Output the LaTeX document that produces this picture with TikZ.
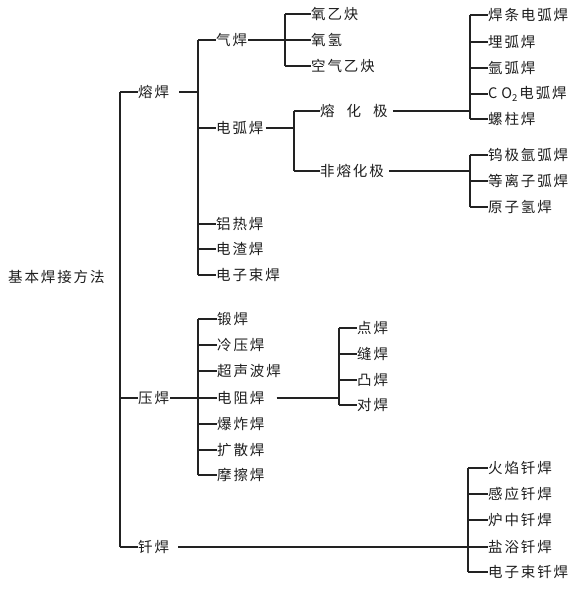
\documentclass[tikz,border=0pt]{standalone}
\usepackage{fontspec}
\newfontfamily\cjk[LetterSpace=13]{Noto Sans CJK SC}
\definecolor{txt}{HTML}{1E1E1E}
\definecolor{lin}{HTML}{222222}
\begin{document}
\begin{tikzpicture}[x=1pt,y=-1pt,
  lbl/.style={anchor=west,inner sep=0pt,font=\cjk\fontsize{14.5}{17}\selectfont,text=txt},
  ln/.style={draw=lin,line width=1.5pt}]
\useasboundingbox[fill=white] (0,0) rectangle (578,590);
% bars
\coordinate (v0) at (120,0);
\coordinate (v1) at (198,0);
\coordinate (v2) at (285,0);
\coordinate (v3) at (294,0);
\coordinate (v4) at (470,0);
\coordinate (v5) at (339,0);
\coordinate (v6) at (468,0);
% root and level 1
\node[lbl] (root) at (8,277) {基本焊接方法};
\node[lbl] (rh) at (138,92) {熔焊};
\node[lbl] (yh) at (138,398) {压焊};
\node[lbl] (qh) at (138,547) {钎焊};
% 熔焊 children
\node[lbl] (qih) at (216,40) {气焊};
\node[lbl] (dhh) at (216,128) {电弧焊};
\node[lbl] (lrh) at (216,224) {铝热焊};
\node[lbl] (dzh) at (216,249) {电渣焊};
\node[lbl] (dzsh) at (216,275) {电子束焊};
% 气焊 children
\node[lbl] (yyq) at (311,14) {氧乙炔};
\node[lbl] (yq) at (311,40) {氧氢};
\node[lbl] (kqyq) at (311,66) {空气乙炔};
% 电弧焊 children
\node[lbl] (rhj) at (320,111) {熔\hspace{12pt}化\hspace{12pt}极};
\node[lbl] (frhj) at (320,171) {非熔化极};
% 熔化极 children
\node[lbl] (a1) at (488,15) {焊条电弧焊};
\node[lbl] (a2) at (488,42) {埋弧焊};
\node[lbl] (a3) at (488,68) {氩弧焊};
\node[lbl] (a4) at (488,94) {C\hspace{4pt}O\raisebox{-0.35ex}{\fontsize{9.5}{10}\selectfont 2}\hspace{2pt}电弧焊};
\node[lbl] (a5) at (488,119) {螺柱焊};
% 非熔化极 children
\node[lbl] (b1) at (488,155) {钨极氩弧焊};
\node[lbl] (b2) at (488,181) {等离子弧焊};
\node[lbl] (b3) at (488,207) {原子氢焊};
% 压焊 children
\node[lbl] (c1) at (217,319) {锻焊};
\node[lbl] (c2) at (217,345) {冷压焊};
\node[lbl] (c3) at (217,371) {超声波焊};
\node[lbl] (c4) at (217,398) {电阻焊};
\node[lbl] (c5) at (217,424) {爆炸焊};
\node[lbl] (c6) at (217,450) {扩散焊};
\node[lbl] (c7) at (217,475) {摩擦焊};
% 电阻焊 children
\node[lbl] (d1) at (357,328) {点焊};
\node[lbl] (d2) at (357,354) {缝焊};
\node[lbl] (d3) at (357,380) {凸焊};
\node[lbl] (d4) at (357,405) {对焊};
% 钎焊 children
\node[lbl] (e1) at (488,468) {火焰钎焊};
\node[lbl] (e2) at (488,494) {感应钎焊};
\node[lbl] (e3) at (488,520) {炉中钎焊};
\node[lbl] (e4) at (488,547) {盐浴钎焊};
\node[lbl] (e5) at (488,572) {电子束钎焊};
% connectors level 0
\draw[ln] (rh.west -| v0) -- (qh.west -| v0);
\foreach \n in {rh,yh,qh} \draw[ln] (\n.west -| v0) -- (\n.west);
% 熔焊
\draw[ln] ([xshift=10pt]rh.east) -- (rh.east -| v1);
\draw[ln] (qih.west -| v1) -- (dzsh.west -| v1);
\foreach \n in {qih,dhh,lrh,dzh,dzsh} \draw[ln] (\n.west -| v1) -- (\n.west);
% 气焊
\draw[ln] ([xshift=1pt]qih.east) -- (qih.east -| v2);
\draw[ln] (yyq.west -| v2) -- (kqyq.west -| v2);
\foreach \n in {yyq,yq,kqyq} \draw[ln] (\n.west -| v2) -- (\n.west);
% 电弧焊
\draw[ln] ([xshift=2pt]dhh.east) -- (dhh.east -| v3);
\draw[ln] (rhj.west -| v3) -- (frhj.west -| v3);
\foreach \n in {rhj,frhj} \draw[ln] (\n.west -| v3) -- (\n.west);
% 熔化极
\draw[ln] ([xshift=5pt]rhj.east) -- (rhj.east -| v4);
\draw[ln] (a1.west -| v4) -- (a5.west -| v4);
\foreach \n in {a1,a2,a3,a4,a5} \draw[ln] (\n.west -| v4) -- (\n.west);
% 非熔化极
\draw[ln] ([xshift=5pt]frhj.east) -- (frhj.east -| v4);
\draw[ln] (b1.west -| v4) -- (b3.west -| v4);
\foreach \n in {b1,b2,b3} \draw[ln] (\n.west -| v4) -- (\n.west);
% 压焊
\draw[ln] ([xshift=1pt]yh.east) -- (yh.east -| v1);
\draw[ln] (c1.west -| v1) -- (c7.west -| v1);
\foreach \n in {c1,c2,c3,c4,c5,c6,c7} \draw[ln] (\n.west -| v1) -- (\n.west);
% 电阻焊
\draw[ln] ([xshift=12pt]c4.east) -- (c4.east -| v5);
\draw[ln] (d1.west -| v5) -- (d4.west -| v5);
\foreach \n in {d1,d2,d3,d4} \draw[ln] (\n.west -| v5) -- (\n.west);
% 钎焊
\draw[ln] ([xshift=9pt]qh.east) -- (qh.east -| v6);
\draw[ln] (e1.west -| v6) -- (e5.west -| v6);
\foreach \n in {e1,e2,e3,e4,e5} \draw[ln] (\n.west -| v6) -- (\n.west);
\end{tikzpicture}
\end{document}
